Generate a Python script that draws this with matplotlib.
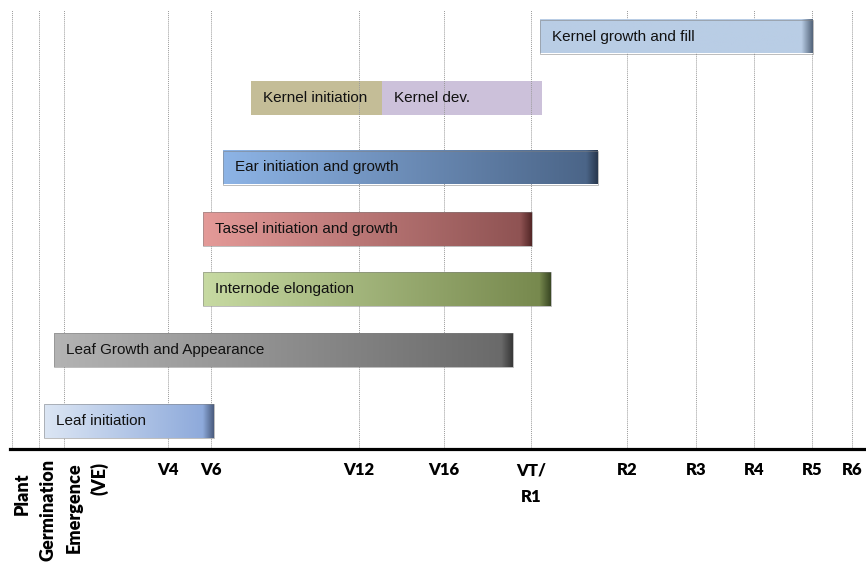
"""
Corn growth stages timeline (gradient bars over dotted stage grid).
"""

import matplotlib
matplotlib.use("Agg")
import matplotlib.pyplot as plt
import numpy as np
from matplotlib.colors import LinearSegmentedColormap
from matplotlib.patches import Rectangle

# --- datos -------------------------------------------------------------

# etapas sobre el eje x (posición relativa en la escala del dibujo)
etapas = ["Plant", "Germination", "Emergence\n(VE)", "V4", "V6", "V12", "V16",
          "VT/\nR1", "R2", "R3", "R4", "R5", "R6"]
pos_etapas = [2, 29, 54, 158, 201, 349, 434, 521, 617, 686, 744, 802, 842]

# procesos
procesos = ["Leaf initiation", "Leaf Growth and Appearance", "Internode elongation",
            "Tassel initiation and growth", "Ear initiation and growth",
            "Kernel initiation", "Kernel dev.", "Kernel growth and fill"]
inicio = [34, 44, 193, 193, 213, 241, 372, 530]
fin = [204, 503, 541, 522, 588, 372, 532, 803]
carril = [27.5, 98.5, 159.5, 219.5, 281, 351, 351, 412]

# colores: (izquierda, derecha, borde final)
colores = [
    ("#dce6f4", "#8eaadb", "#4b5d80"),
    ("#b3b3b3", "#6a6a6a", "#3a3a3a"),
    ("#c7daa2", "#77894e", "#3c4a25"),
    ("#e49a98", "#8f5353", "#552828"),
    ("#8db4e6", "#4b6588", "#2a3a51"),
    ("#c4bd97", "#c4bd97", None),
    ("#ccc1da", "#ccc1da", None),
    ("#b9cde5", "#b9cde5", "#56677d"),
]

# --- figura ------------------------------------------------------------

fig = plt.figure(figsize=(8.66, 5.65), dpi=100)
ax = fig.add_axes([10 / 866, 116.5 / 565, 856 / 866, 438.5 / 565])

alto = 34
banda = 11

for nombre, x0, x1, y, (c0, c1, c2) in zip(procesos, inicio, fin, carril, colores):
    largo = x1 - x0
    if c2 is None:
        # barras planas (quedan bajo la rejilla)
        ax.add_patch(Rectangle((x0, y - alto / 2), largo, alto, facecolor=c0,
                               edgecolor="none", zorder=1))
    else:
        f = 1 - banda / largo
        cmap = LinearSegmentedColormap.from_list(
            "g", [(0, c0), (f, c1), (1, c2)])
        grad = np.linspace(0, 1, 256).reshape(1, -1)
        ax.imshow(grad, cmap=cmap, aspect="auto", interpolation="bilinear",
                  extent=(x0, x1, y - alto / 2, y + alto / 2), zorder=3)
        ax.add_patch(Rectangle((x0, y - alto / 2), largo, alto, facecolor="none",
                               edgecolor="#7f7f7f", linewidth=0.6, alpha=0.6, zorder=4))
    ax.annotate(nombre, xy=(x0, y), xytext=(8.6, 0), textcoords="offset points",
                ha="left", va="center", fontsize=11, family="Liberation Sans",
                color="#111111", zorder=5)

# rejilla punteada por etapa
for x in pos_etapas:
    ax.axvline(x, color="#9a9a9a", linestyle=(0, (1, 1)), linewidth=0.7, zorder=2)

ax.set_xlim(0, 856)
ax.set_ylim(0, 438.5)

for s in ["top", "left", "right"]:
    ax.spines[s].set_visible(False)
ax.spines["bottom"].set_linewidth(2.3)
ax.spines["bottom"].set_color("black")
ax.spines["bottom"].set_zorder(6)
ax.set_yticks([])

# etiquetas horizontales
horiz = [i for i, e in enumerate(etapas) if i >= 3]
ax.set_xticks([pos_etapas[i] for i in horiz])
ax.set_xticklabels([etapas[i] for i in horiz], fontsize=12, fontweight="heavy",
                   family="Lato", linespacing=1.85)
ax.tick_params(axis="x", length=0, pad=10)

# etiquetas verticales (Plant, Germination, Emergence)
desplaz = [(7.5, -17), (6.5, -7.6), (16.5, -9.7)]
for i, (dx, dy) in enumerate(desplaz):
    ax.annotate(etapas[i], xy=(pos_etapas[i], 0), xycoords=ax.get_xaxis_transform(),
                xytext=(dx, dy), textcoords="offset points", rotation=90,
                ha="center", va="top", multialignment="right", linespacing=1.5,
                fontsize=13, fontweight="heavy", family="Lato", annotation_clip=False)

fig.savefig("out.png", dpi=100)
